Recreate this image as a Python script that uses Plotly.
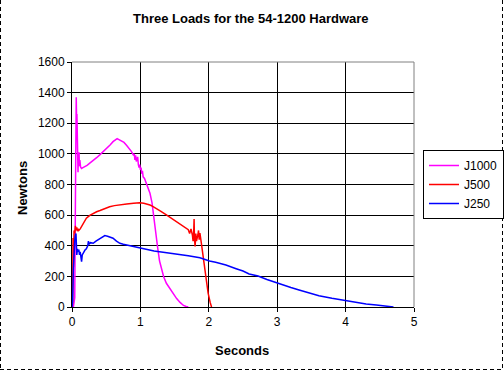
import plotly.graph_objects as go

# ---- data ----
t_j1000 = [0.02, 0.04, 0.055, 0.062, 0.068, 0.072, 0.078, 0.083, 0.088, 0.093, 0.098, 0.103, 0.108, 0.115,
           0.125, 0.14, 0.16, 0.19, 0.22, 0.26, 0.31, 0.36, 0.41, 0.46, 0.51, 0.56, 0.60, 0.64, 0.66, 0.68,
           0.70, 0.72, 0.76, 0.80, 0.84, 0.87, 0.90, 0.91, 0.92, 0.93, 0.94, 0.96, 0.97, 0.98, 0.99, 1.00,
           1.01, 1.02, 1.03, 1.04, 1.06, 1.08, 1.10, 1.12, 1.14, 1.17, 1.19, 1.22, 1.25, 1.28, 1.31, 1.34,
           1.38, 1.43, 1.48, 1.53, 1.58, 1.63, 1.67, 1.70]
j1000 = [0, 60, 1000, 1370, 1200, 1260, 1000, 1040, 880, 1000, 950, 1010, 920, 960,
         915, 905, 910, 915, 925, 940, 955, 975, 995, 1015, 1040, 1060, 1080, 1095, 1100, 1095,
         1090, 1085, 1075, 1055, 1035, 1015, 990, 1000, 960, 990, 950, 980, 930, 910, 930, 895,
         910, 870, 890, 850, 840, 815, 797, 770, 743, 680, 600, 500, 395, 300, 240, 198,
         155, 120, 91, 55, 30, 10, 3, 0]

t_j500 = [0.0, 0.01, 0.015, 0.02, 0.025, 0.03, 0.04, 0.05, 0.06, 0.07, 0.08, 0.09, 0.10, 0.12, 0.14,
          0.17, 0.21, 0.26, 0.31, 0.36, 0.41, 0.48, 0.55, 0.62, 0.70, 0.80, 0.90, 0.99, 1.05, 1.10,
          1.14, 1.18, 1.23, 1.30, 1.38, 1.45, 1.53, 1.60, 1.67, 1.70, 1.72, 1.74, 1.76, 1.77, 1.78,
          1.785, 1.79, 1.80, 1.81, 1.82, 1.84, 1.85, 1.86, 1.87, 1.89, 1.91, 1.93, 1.96, 1.99, 2.02, 2.04]
j500 = [0, 30, 450, 260, 330, 500, 480, 530, 500, 520, 495, 510, 500, 510, 525,
        555, 580, 598, 612, 622, 630, 643, 655, 662, 668, 673, 677, 681, 678, 672,
        666, 657, 645, 625, 601, 580, 557, 535, 514, 505, 480, 510, 470, 430, 500,
        575, 450, 395, 480, 430, 470, 500, 440, 483, 420, 352, 270, 176, 90, 30, 0]

t_j250 = [0.0, 0.01, 0.02, 0.03, 0.04, 0.05, 0.058, 0.065, 0.07, 0.08, 0.09, 0.10, 0.11, 0.12, 0.13,
          0.14, 0.15, 0.16, 0.18, 0.19, 0.21, 0.23, 0.24, 0.25, 0.27, 0.31, 0.35, 0.40, 0.45, 0.48,
          0.52, 0.56, 0.60, 0.65, 0.70, 0.75, 0.80, 0.90, 0.99, 1.10, 1.20, 1.28, 1.40, 1.57, 1.70,
          1.87, 2.01, 2.10, 2.25, 2.40, 2.50, 2.59, 2.72, 2.85, 2.98, 3.10, 3.20, 3.32, 3.45, 3.61,
          3.80, 4.00, 4.15, 4.30, 4.45, 4.55, 4.64, 4.68, 4.70]
j250 = [0, 40, 250, 380, 430, 470, 480, 400, 340, 380, 360, 375, 340, 360, 320,
        296, 340, 350, 360, 372, 380, 400, 430, 410, 420, 416, 430, 445, 460, 466,
        462, 455, 449, 430, 416, 410, 405, 393, 383, 375, 366, 361, 354, 346, 335,
        322, 300, 292, 274, 250, 235, 216, 202, 180, 159, 142, 127, 111, 93, 74,
        57, 41, 30, 20, 13, 9, 7, 3, 0]

x_ticks = [0, 1, 2, 3, 4, 5]
y_ticks = [0, 200, 400, 600, 800, 1000, 1200, 1400, 1600]

FONT = "Arial, Liberation Sans, sans-serif"

fig = go.Figure()
fig.add_trace(go.Scatter(x=t_j1000, y=j1000, mode="lines", name="J1000",
                         line=dict(color="#FF00FF", width=1.5)))
fig.add_trace(go.Scatter(x=t_j500, y=j500, mode="lines", name="J500",
                         line=dict(color="#FF0000", width=1.5)))
fig.add_trace(go.Scatter(x=t_j250, y=j250, mode="lines", name="J250",
                         line=dict(color="#0000FF", width=1.5)))

L, R, T, B = 72, 90, 62, 65
PW, PH = 504 - L - R, 372 - T - B

def px_x(p):
    return (p - L) / PW

def px_y(p):
    return (372 - B - p) / PH

fig.update_layout(
    width=504, height=372,
    margin=dict(l=L, r=R, t=T, b=B, autoexpand=False),
    paper_bgcolor="white", plot_bgcolor="white",
    font=dict(family=FONT, size=12, color="black"),
    showlegend=True,
    legend=dict(x=px_x(423), y=px_y(184.5), xanchor="left", yanchor="middle",
                bordercolor="black", borderwidth=1, bgcolor="white",
                font=dict(family=FONT, size=12), tracegroupgap=0,
                itemwidth=30),
    xaxis=dict(range=[0, 5], tickvals=x_ticks, ticktext=[str(v) for v in x_ticks],
               showgrid=True, gridcolor="black", gridwidth=1,
               showline=True, linecolor="black", linewidth=1,
               ticks="outside", ticklen=4, tickcolor="black",
               zeroline=False, tickfont=dict(family=FONT, size=12)),
    yaxis=dict(range=[0, 1600], tickvals=y_ticks, ticktext=[str(v) for v in y_ticks],
               showgrid=True, gridcolor="black", gridwidth=1,
               showline=True, linecolor="black", linewidth=1,
               ticks="outside", ticklen=4, tickcolor="black",
               zeroline=False, tickfont=dict(family=FONT, size=12)),
    annotations=[
        dict(text="<b>Three Loads for the 54-1200 Hardware</b>", xref="paper", yref="paper",
             x=px_x(251), y=px_y(18), xanchor="center", yanchor="middle", showarrow=False,
             font=dict(family=FONT, size=13)),
        dict(text="<b>Seconds</b>", xref="paper", yref="paper",
             x=px_x(242), y=px_y(350), xanchor="center", yanchor="middle", showarrow=False,
             font=dict(family=FONT, size=13)),
        dict(text="<b>Newtons</b>", xref="paper", yref="paper", textangle=-90,
             x=px_x(22), y=px_y(188), xanchor="center", yanchor="middle", showarrow=False,
             font=dict(family=FONT, size=13)),
    ],
    shapes=[
        # gray top and right borders of the plot area
        dict(type="line", xref="paper", yref="paper", x0=0, x1=1, y0=1, y1=1,
             line=dict(color="#808080", width=1), layer="above"),
        dict(type="line", xref="paper", yref="paper", x0=1, x1=1, y0=0, y1=1,
             line=dict(color="#808080", width=1), layer="above"),
        # dashed chart border
        dict(type="line", xref="paper", yref="paper", x0=px_x(0.5), x1=px_x(0.5), y0=px_y(0), y1=px_y(369),
             line=dict(color="black", width=1, dash="4px,3px"), layer="above"),
        dict(type="line", xref="paper", yref="paper", x0=px_x(502.5), x1=px_x(502.5), y0=px_y(0), y1=px_y(369),
             line=dict(color="black", width=1, dash="4px,3px"), layer="above"),
        dict(type="line", xref="paper", yref="paper", x0=px_x(0), x1=px_x(503), y0=px_y(369.5), y1=px_y(369.5),
             line=dict(color="black", width=1, dash="4px,3px"), layer="above"),
    ],
)

fig.write_html("out.html",
               config={"displayModeBar": False},
               post_script="document.body.style.margin='0px';document.body.style.overflow='hidden';")
